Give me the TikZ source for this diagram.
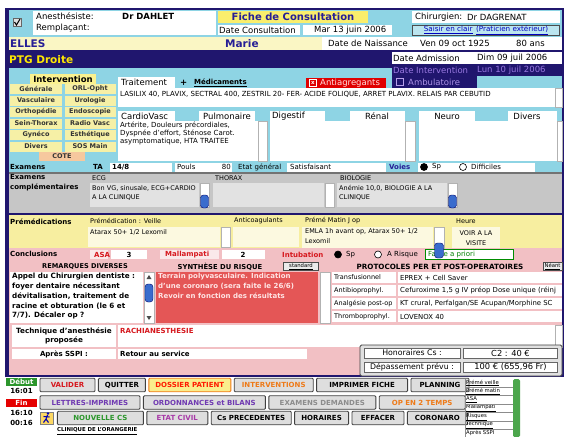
\documentclass[tikz,border=0pt]{standalone}
\usepackage{fontspec}
\setmainfont{DejaVu Sans}
\usepackage{xcolor}
\definecolor{ciel}{RGB}{142, 212, 228}
\definecolor{marine}{RGB}{32, 22, 110}
\definecolor{creme}{RGB}{250, 246, 196}
\definecolor{jaunetitre}{RGB}{250, 238, 108}
\definecolor{paille}{RGB}{247, 238, 160}
\definecolor{pailleclair}{RGB}{252, 249, 224}
\definecolor{btnjaune}{RGB}{246, 240, 166}
\definecolor{peche}{RGB}{246, 200, 158}
\definecolor{gris}{RGB}{198, 198, 198}
\definecolor{grisclair}{RGB}{226, 226, 226}
\definecolor{rose}{RGB}{242, 192, 196}
\definecolor{rouge}{RGB}{228, 86, 86}
\definecolor{rougetxt}{RGB}{214, 24, 30}
\definecolor{violettxt}{RGB}{152, 120, 224}
\definecolor{bleutxt}{RGB}{38, 30, 150}
\definecolor{orangetxt}{RGB}{238, 122, 24}
\definecolor{vertbtn}{RGB}{44, 150, 44}
\definecolor{mauve}{RGB}{112, 58, 178}
\definecolor{pourpre}{RGB}{168, 58, 168}
\definecolor{curseurbleu}{RGB}{58, 108, 205}
\definecolor{jaunebtn}{RGB}{250, 238, 140}
\usepackage{tikz}
\usetikzlibrary{positioning}
\newcommand\fhead{\fontsize{8.5}{9.5}\selectfont}
\newcommand\fbody{\fontsize{7}{8}\selectfont}
\newcommand\fsmall{\fontsize{6.5}{7.5}\selectfont}
\newcommand\ftiny{\fontsize{5.3}{6}\selectfont}

\begin{document}
\begin{tikzpicture}[x=1pt, y=-1pt,
        lbl/.style={anchor=west, inner sep=0pt, font=\fbody},
        head/.style={anchor=west, inner sep=0pt, font=\fhead},
        ivbtn/.style={fill=btnjaune, minimum width=52pt, minimum height=10pt, inner sep=0pt, outer sep=0pt, font=\fsmall\bfseries, text=black!80},
        btn/.style={draw=black!75, fill=black!13, line width=0.9pt, rounded corners=1pt, minimum height=13.5pt, inner sep=0pt, font=\fbody\bfseries},
        radio/.style={circle, draw=black, line width=0.6pt, fill=white, minimum size=7pt, inner sep=0pt},
        piste/.style={fill=white, draw=black!30, line width=0.4pt},
        curseur/.style={fill=curseurbleu, draw=blue!40!black, rounded corners=3pt, line width=0.4pt},
        cell/.style={draw=black!60, fill=white, minimum height=10pt, inner sep=0pt},
        petitbtn/.style={draw=black!70, fill=black!8, inner sep=0.5pt, minimum height=8pt, font=\ftiny}]

        % Fond et cadre
        \fill[white] (0,0) rectangle (566,437);
        \useasboundingbox (0,0) rectangle (566,437);
        \fill[marine] (5,8) rectangle (564,377);
        \fill[ciel] (9,10) rectangle (562,172);
        \fill[creme] (9,37) rectangle (322,50);
        \fill[white] (322,37) rectangle (562,50);
        \fill[marine] (9,50) rectangle (562,52);
        \fill[marine] (9,52) rectangle (392,68);
        \fill[white] (392,52) rectangle (562,64);
        \fill[marine] (392,64) rectangle (562,76);
        \fill[marine] (392,76) rectangle (477,88);
        \fill[black!55] (9,172) rectangle (562,173.5);
        \fill[gris] (9,173.5) rectangle (562,213);
        \fill[marine] (9,213) rectangle (562,215);
        \fill[paille] (9,215) rectangle (562,248);
        \fill[rose] (9,248) rectangle (562,375);

        % Ligne 1 : anesthesiste, titre, chirurgien
        \fill[white] (33,11) rectangle (216,35);
        \node[draw=black!60, fill=black!12, minimum size=8pt, inner sep=0pt] (coche) at (17,22.5) {};
        \draw[black, line width=1pt] (14.5,22) -- (16.5,25) -- (20,19);
        \node[head] (anest) at (36,16.5) {Anesthésiste:};
        \node[head] (rempl) at (36,28.5) {Remplaçant:};
        \node[head, font=\fhead\bfseries] (anestnom) at (122,16.5) {Dr DAHLET};
        \fill[jaunetitre] (218,11) rectangle (368,23);
        \node[inner sep=0pt, font=\fontsize{10}{11}\selectfont\bfseries, text=bleutxt] (titre) at (293,17) {Fiche de Consultation};
        \fill[white] (218,24.5) rectangle (300,35);
        \node[head] (datecs) at (219,30) {Date Consultation};
        \fill[white] (303,24.5) rectangle (392,35);
        \node[head] (datecsval) at (314,30) {Mar 13 juin 2006};
        \fill[white] (412,11) rectangle (560,23);
        \node[head] (chir) at (415,17) {Chirurgien:};
        \node[head] (chirnom) at (467,17) {Dr DAGRENAT};
        \node[draw=black!70, fill=ciel!60!white, minimum width=147pt, minimum height=10pt, inner sep=0pt, font=\fontsize{7.2}{8}\selectfont, text=blue!75!black] (saisir) at (486,30) {\underline{Saisir en clair}\enspace\underline{(Praticien extérieur)}};

        % Patient et dates
        \node[lbl, font=\fontsize{10.5}{11}\selectfont\bfseries, text=bleutxt] (nom) at (10,43.5) {ELLES};
        \node[lbl, font=\fontsize{10.5}{11}\selectfont\bfseries, text=bleutxt] (prenom) at (225,43.5) {Marie};
        \node[head] (naiss) at (328,43.5) {Date de Naissance};
        \node[head] (naissval) at (420,43.5) {Ven 09 oct 1925};
        \node[head] (age) at (516,43.5) {80 ans};
        \node[lbl, font=\fontsize{10.5}{11}\selectfont\bfseries, text=yellow!90!orange] (diag) at (9,60) {PTG Droite};
        \node[head] (adm) at (393,58) {Date Admission};
        \node[head] (admval) at (477,58) {Dim 09 juil 2006};
        \node[head, text=violettxt] (interv) at (393,70) {Date Intervention};
        \node[head, text=violettxt] (intervval) at (477,70) {Lun 10 juil 2006};
        \node[draw=violettxt!70!white, line width=0.8pt, minimum size=7pt, inner sep=0pt] (ambucase) at (400,82) {};
        \node[head, text=violettxt!80!white] (ambu) at (408,82) {Ambulatoire};
        \node[fill=red!88!black, minimum width=80pt, minimum height=10pt, inner sep=0pt] (antiag) at (346,83) {};
        \node[draw=white, line width=0.6pt, minimum size=6.5pt, inner sep=0pt, font=\fontsize{5.5}{5.5}\selectfont\bfseries, text=white] (antiagcase) at (313,83) {x};
        \node[head, text=red!12!white] (antiagtxt) at (320,83) {Antiagregants};

        % Intervention
        \node[fill=jaunetitre!60!creme, minimum width=66pt, minimum height=10pt, inner sep=0pt, font=\fontsize{8.5}{9}\selectfont\bfseries] (ivtitre) at (63,79) {Intervention};
        \node[ivbtn] (generale) at (36,89) {Générale};
        \node[ivbtn, minimum width=51pt, right=2.5pt of generale] (orl) {ORL-Opht};
        \node[ivbtn, below=1.5pt of generale] (vasc) {Vasculaire};
        \node[ivbtn, minimum width=51pt, below=1.5pt of orl] (uro) {Urologie};
        \node[ivbtn, below=1.5pt of vasc] (ortho) {Orthopédie};
        \node[ivbtn, minimum width=51pt, below=1.5pt of uro] (endo) {Endoscopie};
        \node[ivbtn, below=1.5pt of ortho] (sein) {Sein-Thorax};
        \node[ivbtn, minimum width=51pt, below=1.5pt of endo] (radiovasc) {Radio Vasc};
        \node[ivbtn, below=1.5pt of sein] (gyneco) {Gynéco};
        \node[ivbtn, minimum width=51pt, below=1.5pt of radiovasc] (esth) {Esthétique};
        \node[ivbtn, below=1.5pt of gyneco] (divers) {Divers};
        \node[ivbtn, minimum width=51pt, below=1.5pt of esth] (sos) {SOS Main};
        \node[fill=peche, minimum width=46pt, minimum height=9pt, inner sep=0pt, font=\fsmall\bfseries, text=black!80] (cote) at (62,156.5) {COTE};

        % Traitement
        \fill[white] (118,77) rectangle (175,88);
        \node[head] (trait) at (121,82.5) {Traitement};
        \node[head, font=\fhead\bfseries] (plus) at (180,83) {+};
        \node[head, font=\fbody\bfseries] (medic) at (194,82.5) {\underline{Médicaments}};
        \fill[white] (118,88) rectangle (555,107);
        \draw[piste] (555,88) rectangle (562,107);
        \node[lbl] (traittxt) at (120,94) {LASILIX 40, PLAVIX, SECTRAL 400, ZESTRIL 20- FER- ACIDE FOLIQUE, ARRET PLAVIX. RELAIS PAR CEBUTID};

        % Appareils
        \fill[white] (118,111) rectangle (175,121);
        \fill[white] (199,111) rectangle (255,121);
        \fill[white] (118,121) rectangle (258,161);
        \draw[piste] (258,121) rectangle (267,161);
        \fill[white] (270,111) rectangle (325,121);
        \fill[white] (350,111) rectangle (405,121);
        \fill[white] (270,121) rectangle (405,161);
        \draw[piste] (405,121) rectangle (415,161);
        \fill[white] (419,111) rectangle (475,121);
        \fill[white] (508,111) rectangle (557,121);
        \fill[white] (419,121) rectangle (557,161);
        \draw[piste] (557,121) rectangle (562,161);
        \node[head] (cardio) at (121,116) {CardioVasc};
        \node[inner sep=0pt, font=\fhead] (pulmo) at (227,116) {Pulmonaire};
        \node[head] (digest) at (272,116) {Digestif};
        \node[inner sep=0pt, font=\fhead] (renal) at (377,116) {Rénal};
        \node[inner sep=0pt, font=\fhead] (neuro) at (447,116) {Neuro};
        \node[inner sep=0pt, font=\fhead] (divsys) at (527,116) {Divers};
        \node[anchor=north west, align=left, inner sep=0pt, font=\fontsize{7}{8.3}\selectfont] (cardiotxt) at (120,121.5) {Artérite, Douleurs précordiales,\\Dyspnée d'effort, Sténose Carot.\\asymptomatique, HTA TRAITEE};

        % Examens
        \node[lbl, font=\fbody\bfseries] (examens) at (10,167) {Examens};
        \node[lbl, font=\fbody\bfseries] (ta) at (93,167) {TA};
        \fill[white] (110,163) rectangle (172,171.5);
        \node[lbl, font=\fbody\bfseries] (taval) at (112,167) {14/8};
        \fill[white] (175,163) rectangle (232,171.5);
        \node[lbl] (pouls) at (177,167) {Pouls};
        \node[lbl, anchor=east] (poulsval) at (231,167) {80};
        \node[lbl] (etat) at (238,167) {Etat général};
        \fill[white] (287,163) rectangle (386,171.5);
        \node[lbl] (etatval) at (290,167) {Satisfaisant};
        \node[lbl, font=\fbody\bfseries, text=bleutxt] (voies) at (389,167) {Voies};
        \fill[white] (418,163) rectangle (535,171.5);
        \node[radio, fill=black] (voiessp) at (424,167) {};
        \node[lbl] (voiessptxt) at (432,167) {Sp};
        \node[radio] (voiesdiff) at (463,167) {};
        \node[lbl] (voiesdifftxt) at (471,167) {Difficiles};

        % Examens complementaires
        \node[anchor=north west, align=left, inner sep=0pt, font=\fontsize{7}{10}\selectfont\bfseries] (excomp) at (10,174.5) {Examens\\complémentaires};
        \node[lbl, font=\fsmall] (ecg) at (92,178.5) {ECG};
        \node[lbl, font=\fsmall] (thorax) at (215,178.5) {THORAX};
        \node[lbl, font=\fsmall] (bio) at (340,178.5) {BIOLOGIE};
        \fill[grisclair] (90,183) rectangle (199,207);
        \draw[piste] (200,183) rectangle (209,207);
        \draw[curseur] (200.5,195) rectangle (208.5,208);
        \fill[grisclair] (213,183) rectangle (324,207);
        \draw[piste] (325,183) rectangle (334,207);
        \fill[grisclair] (337,183) rectangle (447,207);
        \draw[piste] (448,183) rectangle (457,207);
        \draw[curseur] (448.5,195) rectangle (456.5,208);
        \node[anchor=north west, align=left, inner sep=0pt, font=\fontsize{6.5}{9}\selectfont] (ecgtxt) at (92,185.5) {Bon VG, sinusale, ECG+CARDIO\\A LA CLINIQUE};
        \node[anchor=north west, align=left, inner sep=0pt, font=\fontsize{6.5}{9}\selectfont] (biotxt) at (339,185.5) {Anémie 10,0, BIOLOGIE A LA\\CLINIQUE};

        % Premedications
        \node[lbl, font=\fbody\bfseries] (premed) at (10,222) {Prémédications};
        \node[lbl, font=\fsmall] (veille) at (90,221) {Prémédication : Veille};
        \fill[pailleclair] (88,227) rectangle (220,247);
        \draw[piste] (221,227) rectangle (230,247);
        \node[lbl, font=\fsmall] (veilletxt) at (90,232.5) {Atarax 50+ 1/2 Lexomil};
        \node[lbl, font=\fsmall] (anticoag) at (234,221) {Anticoagulants};
        \fill[pailleclair] (233,227) rectangle (299,247);
        \node[lbl, font=\fsmall] (matin) at (305,221) {Prémé Matin J op};
        \fill[pailleclair] (302,227) rectangle (433,248);
        \node[anchor=north west, align=left, inner sep=0pt, font=\fontsize{6.5}{10}\selectfont] (matintxt) at (305,228.5) {EMLA 1h avant op, Atarax 50+ 1/2\\Lexomil};
        \draw[piste] (434,227) rectangle (444,248);
        \node[lbl, font=\fsmall] (heure) at (456,221) {Heure};
        \fill[pailleclair] (452,227) rectangle (500,248);
        \node[align=center, inner sep=0pt, font=\fontsize{6.5}{10}\selectfont] (heuretxt) at (476,238) {VOIR A LA\\VISITE};

        % Conclusions
        \node[lbl, font=\fbody\bfseries] (concl) at (10,254) {Conclusions};
        \fill[rose!35!white] (90,250) rectangle (108,259);
        \fill[white] (111,250) rectangle (147,259);
        \node[lbl, font=\fbody\bfseries, text=rougetxt] (asa) at (94,254.5) {ASA};
        \node[inner sep=0pt, font=\fbody\bfseries] (asaval) at (129,254.5) {3};
        \fill[rose!35!white] (160,250) rectangle (219,259);
        \fill[white] (222,250) rectangle (265,259);
        \node[lbl, font=\fbody\bfseries, text=rougetxt] (malla) at (165,254.5) {Mallampati};
        \node[inner sep=0pt, font=\fbody\bfseries] (mallaval) at (243,254.5) {2};
        \node[lbl, font=\fbody\bfseries, text=rougetxt] (intub) at (282,254.5) {Intubation};
        \node[radio, fill=black] (intubsp) at (338,254.5) {};
        \node[lbl] (intubsptxt) at (346,254.5) {Sp};
        \node[radio] (intubrisque) at (378,254.5) {};
        \node[lbl] (intubrisquetxt) at (387,254.5) {A Risque};
        \node[draw=green!55!black, fill=white, line width=0.7pt, minimum width=88pt, minimum height=10pt, inner sep=0pt] (facile) at (469,254.5) {};
        \node[lbl, text=green!50!black] (faciletxt) at (428,254.5) {Facile a priori};
        \draw[curseur] (434.5,243) rectangle (443.5,258);

        \node[inner sep=0pt, font=\fontsize{6.6}{7}\selectfont\bfseries] (remtitre) at (85,266.5) {REMARQUES DIVERSES};
        \node[inner sep=0pt, font=\fontsize{6.8}{7}\selectfont\bfseries] (synthtitre) at (220,266.5) {SYNTHÈSE DU RISQUE};
        \node[petitbtn, minimum width=35pt] (standard) at (301,266.5) {\underline{standard}};
        \node[inner sep=0pt, font=\fontsize{7.2}{8}\selectfont\bfseries] (prottitre) at (440,266.5) {PROTOCOLES PER ET POST-OPERATOIRES};
        \node[petitbtn, minimum width=19pt] (neant) at (552.5,266.5) {\underline{Néant}};

        % Remarques et synthese
        \fill[white] (10,272) rectangle (143,323);
        \node[anchor=north west, align=left, inner sep=0pt, font=\fontsize{7.2}{9.8}\selectfont\bfseries] (remtxt) at (12,273) {Appel du Chirurgien dentiste :\\foyer dentaire nécessitant\\dévitalisation, traitement de\\racine et obturation (le 6 et\\7/7). Décaler op ?};
        \draw[piste] (144,272) rectangle (154,323);
        \fill[black!70] (146.5,279) -- (151.5,279) -- (149,275) -- cycle;
        \fill[black!70] (146.5,316) -- (151.5,316) -- (149,320) -- cycle;
        \draw[curseur] (145,284) rectangle (153,302);
        \fill[rouge] (156,272) rectangle (318,323);
        \node[anchor=north west, align=left, inner sep=0pt, font=\fontsize{7}{9.8}\selectfont\bfseries, text=red!10!white] (synthtxt) at (158,273) {Terrain polyvasculaire. Indication\\d'une coronaro (sera faite le 26/6)\\Revoir en fonction des résultats};
        \draw[piste] (320,272) rectangle (330,323);

        % Protocoles
        \fill[white] (332,272) rectangle (396,283);
        \fill[white] (398,272) rectangle (562,283);
        \fill[white] (332,285) rectangle (396,296);
        \fill[white] (398,285) rectangle (562,296);
        \fill[white] (332,298) rectangle (396,309);
        \fill[white] (398,298) rectangle (562,309);
        \fill[white] (332,311) rectangle (396,322);
        \fill[white] (398,311) rectangle (562,322);
        \node[lbl, font=\fsmall] (transf) at (334,277.5) {Transfusionnel};
        \node[lbl, font=\fontsize{6.9}{8}\selectfont] (transfval) at (400,277.5) {EPREX + Cell Saver};
        \node[lbl, font=\fsmall] (antibio) at (334,290.5) {Antibioprophyl.};
        \node[lbl, font=\fontsize{6.9}{8}\selectfont] (antibioval) at (400,290.5) {Cefuroxime 1,5 g IV préop Dose unique (réinj};
        \node[lbl, font=\fsmall] (analg) at (334,303.5) {Analgésie post-op};
        \node[lbl, font=\fontsize{6.9}{8}\selectfont] (analgval) at (400,303.5) {KT crural, Perfalgan/SE Acupan/Morphine SC};
        \node[lbl, font=\fsmall] (thrombo) at (334,316.5) {Thromboprophyl.};
        \node[lbl, font=\fontsize{6.9}{8}\selectfont] (thromboval) at (400,316.5) {LOVENOX 40};

        % Technique et SSPI
        \fill[white] (12,325) rectangle (116,347);
        \fill[white] (118,325) rectangle (555,347);
        \draw[piste] (555,325) rectangle (562,347);
        \node[align=center, inner sep=0pt, font=\fontsize{7.2}{9.5}\selectfont\bfseries] (tech) at (64,336) {Technique d'anesthésie\\proposée};
        \node[lbl, font=\fbody\bfseries, text=rougetxt] (techval) at (120,331) {RACHIANESTHESIE};
        \fill[white] (12,349) rectangle (116,359);
        \fill[white] (118,349) rectangle (307,359);
        \node[inner sep=0pt, font=\fbody\bfseries] (sspi) at (64,354) {Après SSPI :};
        \node[lbl, font=\fbody\bfseries] (sspival) at (120,354) {Retour au service};

        % Honoraires
        \draw[black!75, fill=black!12, rounded corners=1.5pt, line width=0.8pt] (360,345) rectangle (562,376);
        \node[cell, minimum width=96pt, font=\fontsize{7.8}{8}\selectfont] (hono) at (412,353) {Honoraires Cs :};
        \node[cell, minimum width=94pt, font=\fontsize{8.3}{9}\selectfont] (honoval) at (510.5,353) {C2 : 40 €};
        \node[cell, minimum width=96pt, font=\fontsize{7.8}{8}\selectfont] (depas) at (412,367) {Dépassement prévu :};
        \node[cell, minimum width=94pt, font=\fontsize{8.3}{9}\selectfont] (depasval) at (510.5,367) {100 € (655,96 Fr)};

        % Horloge
        \node[fill=vertbtn, text=white, minimum width=31pt, minimum height=8pt, inner sep=0pt, font=\fbody\bfseries] (debut) at (21.5,381.5) {Début};
        \node[inner sep=0pt, font=\fbody\bfseries] (hdebut) at (21.5,391) {16:01};
        \node[fill=red!90!black, text=white, minimum width=31pt, minimum height=8pt, inner sep=0pt, font=\fbody\bfseries] (fin) at (21.5,402.5) {Fin};
        \node[inner sep=0pt, font=\fbody\bfseries] (hfin) at (21.5,413) {16:10};
        \node[inner sep=0pt, font=\fbody\bfseries] (duree) at (21.5,422.5) {00:16};

        % Boutons
        \node[btn, minimum width=55pt, text=rougetxt] (valider) at (67.5,385) {VALIDER};
        \node[btn, minimum width=47pt, right=2.5pt of valider] (quitter) {QUITTER};
        \node[btn, minimum width=82pt, right=2.5pt of quitter, fill=jaunebtn, draw=orangetxt, text=red!80!orange] (dossier) {DOSSIER PATIENT};
        \node[btn, minimum width=79pt, right=2.5pt of dossier, text=orangetxt] (interventions) {INTERVENTIONS};
        \node[btn, minimum width=91pt, right=2.5pt of interventions] (imprimer) {IMPRIMER FICHE};
        \node[btn, minimum width=58pt, right=2.5pt of imprimer] (planning) {PLANNING};

        \node[btn, minimum width=100pt, text=mauve] (lettres) at (90,402.5) {LETTRES-IMPRIMES};
        \node[btn, minimum width=122pt, right=2.5pt of lettres, text=mauve] (ordo) {ORDONNANCES et BILANS};
        \node[btn, minimum width=107pt, right=2.5pt of ordo, text=black!45] (examdem) {EXAMENS DEMANDES};
        \node[btn, minimum width=86pt, right=2.5pt of examdem, text=orangetxt] (optemps) {OP EN 2 TEMPS};

        \node[fill=yellow!55!orange!60, draw=black!50, minimum size=12.5pt, inner sep=0pt] (icone) at (46.5,418) {};
        \fill[blue!70!black] (48,413.5) circle (1.4);
        \draw[blue!70!black, line width=1.1pt] (47.5,415) -- (46,419) -- (43.5,422.5) (46,419) -- (48.5,422.5) (43.5,416.5) -- (49.5,417);
        \node[btn, minimum width=86pt, right=4pt of icone, text=vertbtn] (nouvelle) {NOUVELLE CS};
        \node[btn, minimum width=61pt, right=2.5pt of nouvelle, text=pourpre] (etatcivil) {ETAT CIVIL};
        \node[btn, minimum width=80pt, right=2.5pt of etatcivil] (csprec) {Cs PRECEDENTES};
        \node[btn, minimum width=54pt, right=2.5pt of csprec] (horaires) {HORAIRES};
        \node[btn, minimum width=52pt, right=2.5pt of horaires] (effacer) {EFFACER};
        \node[btn, minimum width=60pt, right=2.5pt of effacer] (coronaro) {CORONARO};

        \node[lbl, font=\fontsize{5.4}{6}\selectfont\bfseries] (clinique) at (57,431) {\underline{CLINIQUE DE L'ORANGERIE}};

        % Liste des rubriques
        \fill[vertbtn!85!white, rounded corners=1.5pt] (513,379) rectangle (520,437);
        \node[lbl, font=\ftiny] (lveille) at (466,383) {\underline{Prémé veille}};
        \node[lbl, font=\ftiny] (lmatin) at (466,391.5) {\underline{Prémé matin}};
        \node[lbl, font=\ftiny] (lasa) at (466,400) {\underline{ASA}};
        \node[lbl, font=\ftiny] (lmalla) at (466,408.5) {\underline{Mallampati}};
        \node[lbl, font=\ftiny] (lrisques) at (466,417) {\underline{Risques}};
        \node[lbl, font=\ftiny] (ltech) at (466,425.5) {\underline{Technique}};
        \node[lbl, font=\ftiny] (lsspi) at (466,434) {\underline{Après SSPI}};
        \draw[black!45, line width=0.4pt] (465,379) -- (465,437) (465,387) -- (513,387) (465,395.5) -- (513,395.5) (465,404) -- (513,404) (465,412.5) -- (513,412.5) (465,421) -- (513,421) (465,429.5) -- (513,429.5);
    \end{tikzpicture}
\end{document}
